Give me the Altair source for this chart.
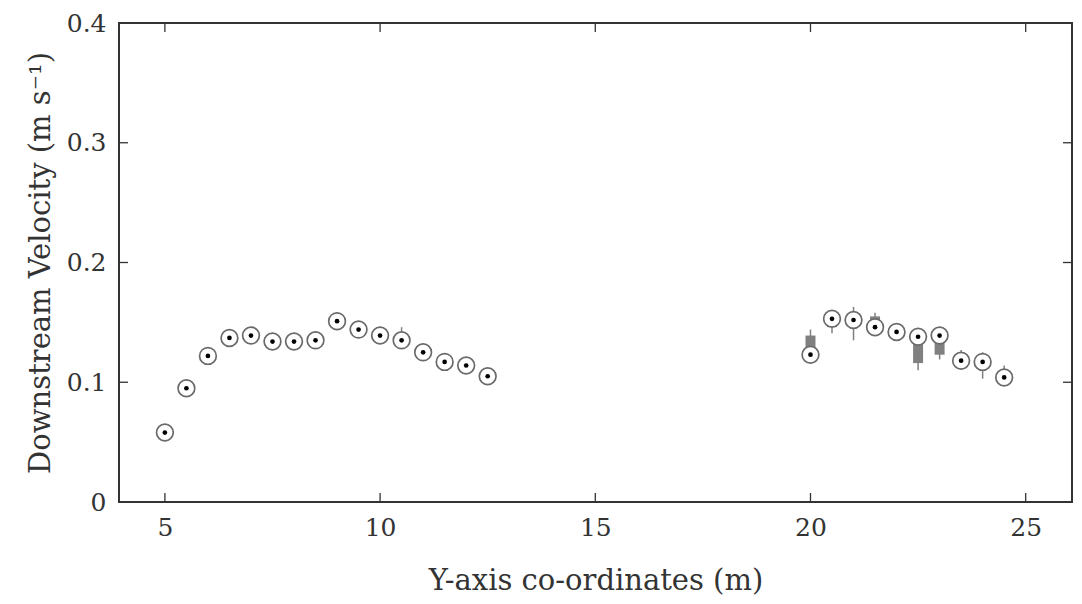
import altair as alt
import pandas as pd

# Mean downstream velocity at each Y coordinate
x_vals = [5, 5.5, 6, 6.5, 7, 7.5, 8, 8.5, 9, 9.5, 10, 10.5, 11, 11.5, 12, 12.5,
          20, 20.5, 21, 21.5, 22, 22.5, 23, 23.5, 24, 24.5]
y_vals = [0.058, 0.095, 0.122, 0.137, 0.139, 0.134, 0.134, 0.135, 0.151, 0.144,
          0.139, 0.135, 0.125, 0.117, 0.114, 0.105,
          0.123, 0.153, 0.152, 0.146, 0.142, 0.138, 0.139, 0.118, 0.117, 0.104]

# Box plot statistics (where visible)
box_x = [10.5, 20, 20.5, 21, 21.5, 22, 22.5, 23, 23.5, 24, 24.5]
box_lo = [0.130, 0.121, 0.141, 0.135, 0.141, 0.137, 0.110, 0.119, 0.114, 0.103, 0.100]
box_q1 = [0.132, 0.124, 0.146, 0.148, 0.144, 0.139, 0.116, 0.123, 0.116, 0.113, 0.102]
box_q3 = [0.138, 0.139, 0.152, 0.155, 0.155, 0.144, 0.134, 0.136, 0.120, 0.119, 0.106]
box_hi = [0.146, 0.144, 0.156, 0.163, 0.158, 0.146, 0.140, 0.141, 0.127, 0.125, 0.114]

x_ticks = [5, 10, 15, 20, 25]
y_ticks = [0, 0.1, 0.2, 0.3, 0.4]

pts = pd.DataFrame({"x": x_vals, "y": y_vals})
box = pd.DataFrame({"x": box_x, "lo": box_lo, "q1": box_q1, "q3": box_q3, "hi": box_hi})
xt = pd.DataFrame({"t": x_ticks})
yt = pd.DataFrame({"t": y_ticks})

W, H = 953, 479
FONT = "DejaVu Serif"
GREY = "#333333"

xs = alt.Scale(domain=[4.05, 25.96], nice=False, zero=False)
ys = alt.Scale(domain=[0, 0.4], nice=False)

xaxis = alt.Axis(values=x_ticks, title="Y-axis co-ordinates (m)", domain=False, ticks=False,
                 grid=False, labelFont=FONT, labelFontSize=25, labelColor=GREY,
                 labelPadding=13, titleFont=FONT, titleFontSize=29, titleFontWeight="normal",
                 titleColor=GREY, titlePadding=26)
yaxis = alt.Axis(values=y_ticks, title="Downstream Velocity (m s⁻¹)", domain=False, ticks=False,
                 grid=False, labelFont=FONT, labelFontSize=25, labelColor=GREY,
                 labelPadding=13, titleFont=FONT, titleFontSize=29, titleFontWeight="normal",
                 titleColor=GREY, titlePadding=11,
                 labelExpr="datum.value == 0 ? '0' : format(datum.value, '.1f')")

whisk = alt.Chart(box).mark_rule(color="#808080", strokeWidth=1.5).encode(
    x=alt.X("x:Q", scale=xs, axis=xaxis), y=alt.Y("lo:Q", scale=ys, axis=yaxis), y2="hi:Q")
boxes = alt.Chart(box).mark_bar(color="#808080", size=10).encode(
    x=alt.X("x:Q", scale=xs), y=alt.Y("q1:Q", scale=ys), y2="q3:Q")
rings = alt.Chart(pts).mark_point(shape="circle", filled=True, fill="white", stroke="#6a6a6a",
                                  strokeWidth=1.7, size=280, opacity=1).encode(
    x=alt.X("x:Q", scale=xs), y=alt.Y("y:Q", scale=ys))
dots = alt.Chart(pts).mark_point(shape="circle", filled=True, color="black", size=22, opacity=1).encode(
    x=alt.X("x:Q", scale=xs), y=alt.Y("y:Q", scale=ys))

tk = dict(color=GREY, strokeWidth=1.3)
xt_bot = alt.Chart(xt).mark_rule(**tk).encode(x=alt.X("t:Q", scale=xs), y=alt.value(H), y2=alt.value(H - 9))
xt_top = alt.Chart(xt).mark_rule(**tk).encode(x=alt.X("t:Q", scale=xs), y=alt.value(0), y2=alt.value(9))
yt_l = alt.Chart(yt).mark_rule(**tk).encode(y=alt.Y("t:Q", scale=ys), x=alt.value(0), x2=alt.value(9))
yt_r = alt.Chart(yt).mark_rule(**tk).encode(y=alt.Y("t:Q", scale=ys), x=alt.value(W), x2=alt.value(W - 9))

chart = alt.layer(whisk, boxes, rings, dots, xt_bot, xt_top, yt_l, yt_r).properties(
    width=W, height=H,
    autosize=alt.AutoSizeParams(type="none"),
    padding={"left": 119, "top": 23, "right": 10, "bottom": 102},
    background="white",
).configure_view(stroke=GREY, strokeWidth=2)

chart.save("out.html", embed_options={"renderer": "svg", "actions": False})
